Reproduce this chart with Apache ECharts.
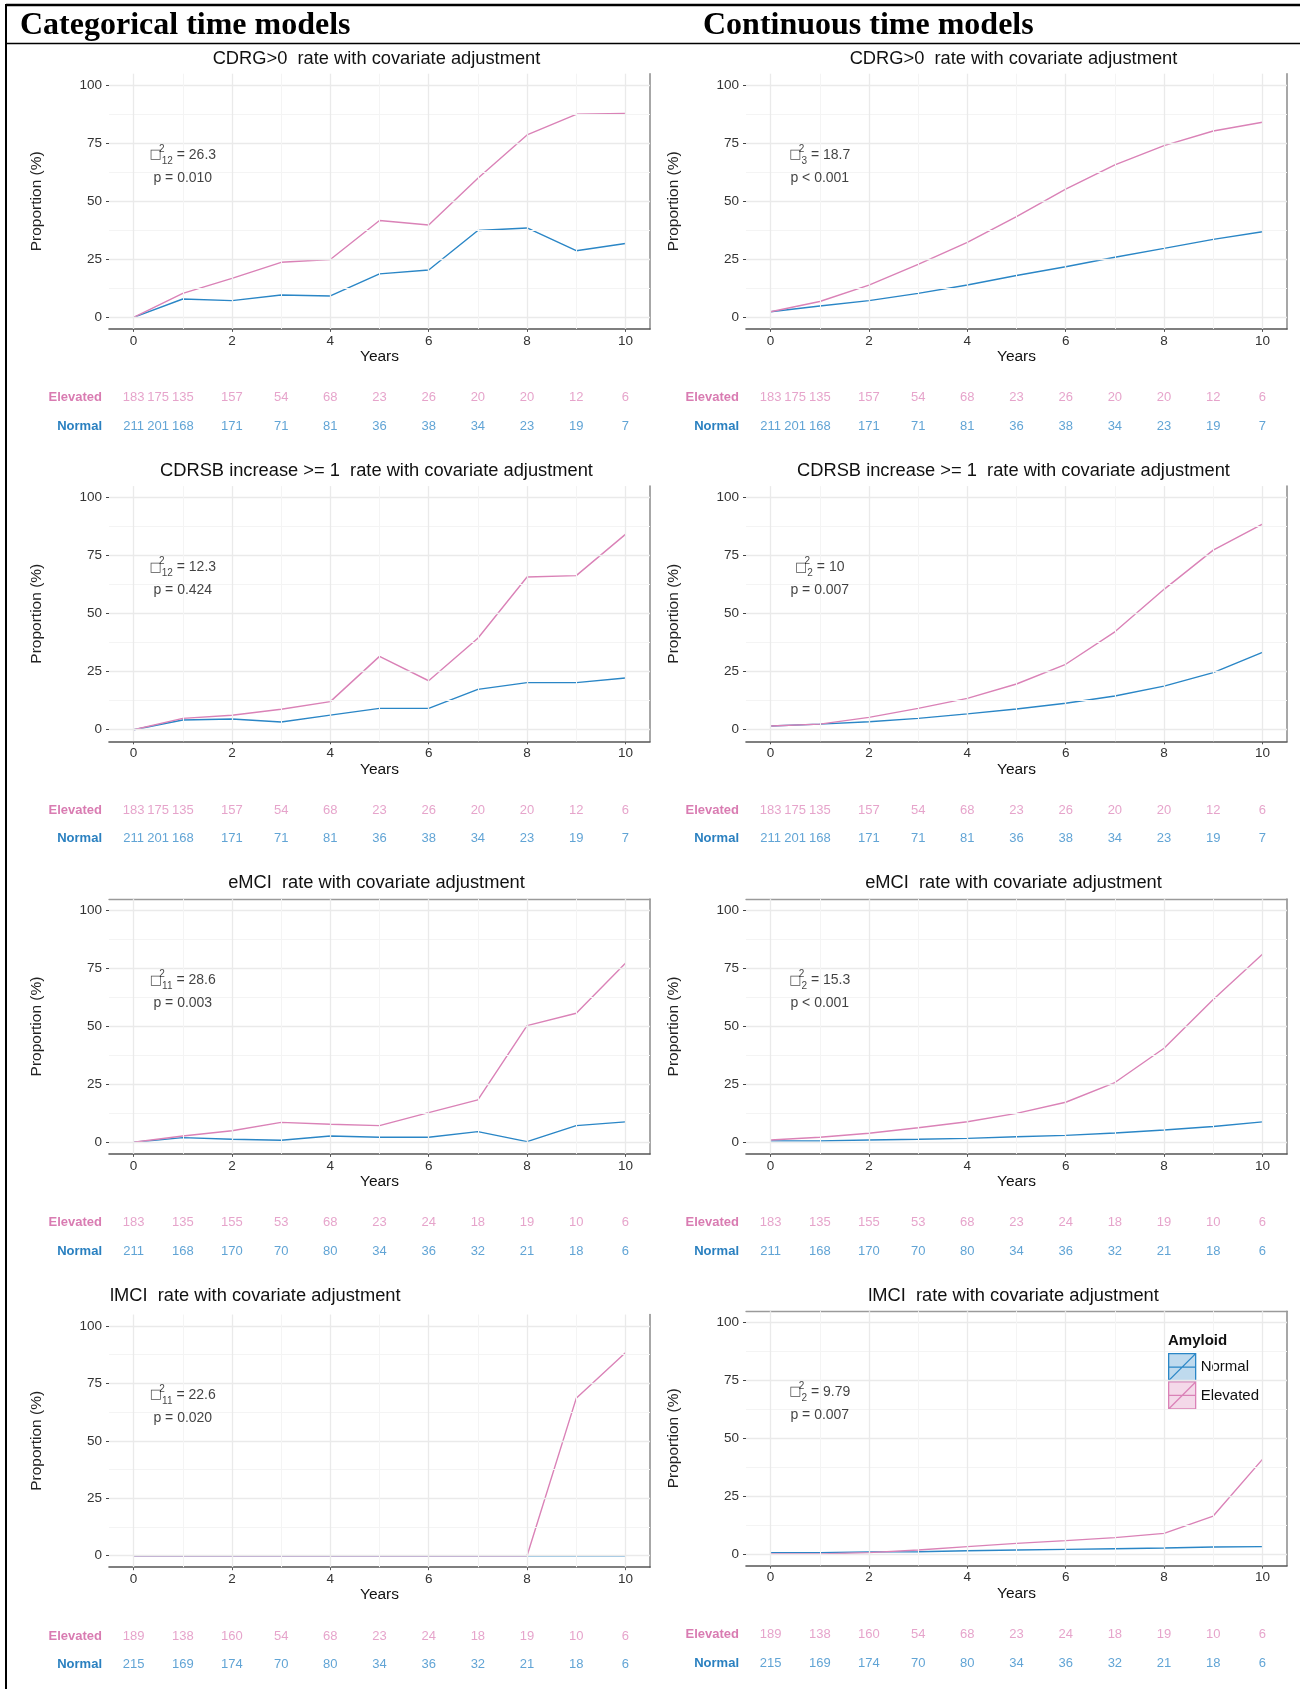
<!DOCTYPE html>
<html lang="en">
<head>
<meta charset="utf-8">
<title>Amyloid status and progression rates</title>
<script src="https://cdn.jsdelivr.net/npm/echarts@6/dist/echarts.min.js"></script>
<style>
  html, body { margin: 0; padding: 0; background: #fff; }
  #chart { width: 1300px; height: 1689px; }
</style>
</head>
<body>
<div id="chart"></div>
<script>
// follow-up years of the fitted curves
const years = [0, 1, 2, 3, 4, 5, 6, 7, 8, 9, 10];

// categorical time models (left column), proportion in %
const cdrgCatNormal = [0, 7.9, 7.2, 9.6, 9.2, 18.7, 20.4, 37.4, 38.5, 28.7, 31.8];
const cdrgCatElevated = [0, 10.3, 16.8, 23.7, 24.9, 41.7, 39.8, 59.9, 78.6, 87.5, 87.9];
const cdrsbCatNormal = [0, 4.2, 4.6, 3.3, 6.3, 9.2, 9.2, 17.4, 20.3, 20.3, 22.3];
const cdrsbCatElevated = [0, 4.9, 6.2, 8.8, 12.1, 31.6, 21.1, 39.4, 65.8, 66.4, 84.2];
const emciCatNormal = [0, 2.0, 1.3, 0.9, 2.7, 2.2, 2.2, 4.6, 0.3, 7.2, 8.8];
const emciCatElevated = [0, 2.7, 5.0, 8.6, 7.8, 7.2, 12.8, 18.3, 50.4, 55.7, 77.3];
const lmciCatNormal = [0, 0, 0, 0, 0, 0, 0, 0, 0, 0, 0];
const lmciCatElevated = [0, 0, 0, 0, 0, 0, 0, 0, 0, 68.5, 88.4];

// continuous time models (right column)
const cdrgConNormal = [2.4, 4.9, 7.2, 10.3, 13.9, 18.0, 21.8, 25.9, 29.7, 33.6, 36.9];
const cdrgConElevated = [2.4, 6.8, 13.9, 22.8, 32.3, 43.4, 55.2, 65.7, 74.0, 80.3, 84.1];
const cdrsbConNormal = [1.6, 2.4, 3.4, 4.9, 6.8, 8.9, 11.4, 14.5, 18.8, 24.6, 33.3];
const cdrsbConElevated = [1.6, 2.4, 5.3, 9.2, 13.5, 19.7, 28.2, 42.2, 60.5, 77.4, 88.6];
const emciConNormal = [0.6, 0.6, 1.0, 1.3, 1.7, 2.4, 3.0, 4.0, 5.3, 6.8, 8.8];
const emciConElevated = [1.0, 2.2, 3.9, 6.3, 8.9, 12.5, 17.3, 25.8, 40.6, 61.7, 81.2];
const lmciConNormal = [0.6, 0.6, 0.9, 1.0, 1.4, 1.7, 2.0, 2.3, 2.6, 3.0, 3.2];
const lmciConElevated = [0, 0, 0.6, 1.7, 3.2, 4.6, 5.8, 7.1, 8.9, 16.4, 40.9];

// numbers at risk under each panel
const riskTimesHalf = [0, 0.5, 1, 2, 3, 4, 5, 6, 7, 8, 9, 10];
const riskTimesYear = [0, 1, 2, 3, 4, 5, 6, 7, 8, 9, 10];
const cdrRiskElevated = [183, 175, 135, 157, 54, 68, 23, 26, 20, 20, 12, 6];
const cdrRiskNormal = [211, 201, 168, 171, 71, 81, 36, 38, 34, 23, 19, 7];
const emciRiskElevated = [183, 135, 155, 53, 68, 23, 24, 18, 19, 10, 6];
const emciRiskNormal = [211, 168, 170, 70, 80, 34, 36, 32, 21, 18, 6];
const lmciRiskElevated = [189, 138, 160, 54, 68, 23, 24, 18, 19, 10, 6];
const lmciRiskNormal = [215, 169, 174, 70, 80, 34, 36, 32, 21, 18, 6];

// text
const outcomeTitles = [
  'CDRG>0  rate with covariate adjustment',
  'CDRSB increase >= 1  rate with covariate adjustment',
  'eMCI  rate with covariate adjustment',
  'lMCI  rate with covariate adjustment'
];
const chiDfCat = ['12', '12', '11', '11'];
const chiCat = ['26.3', '12.3', '28.6', '22.6'];
const pCat = ['p = 0.010', 'p = 0.424', 'p = 0.003', 'p = 0.020'];
const chiDfCon = ['3', '2', '2', '2'];
const chiCon = ['18.7', '10', '15.3', '9.79'];
const pCon = ['p < 0.001', 'p = 0.007', 'p < 0.001', 'p = 0.007'];
const yTicks = [0, 25, 50, 75, 100];
const xTicks = [0, 2, 4, 6, 8, 10];

const panels = [
  [cdrgCatNormal, cdrgCatElevated, cdrgConNormal, cdrgConElevated, riskTimesHalf, cdrRiskNormal, cdrRiskElevated],
  [cdrsbCatNormal, cdrsbCatElevated, cdrsbConNormal, cdrsbConElevated, riskTimesHalf, cdrRiskNormal, cdrRiskElevated],
  [emciCatNormal, emciCatElevated, emciConNormal, emciConElevated, riskTimesYear, emciRiskNormal, emciRiskElevated],
  [lmciCatNormal, lmciCatElevated, lmciConNormal, lmciConElevated, riskTimesYear, lmciRiskNormal, lmciRiskElevated]
];

// colours / fonts
const BLUE = '#2A86C6', PINK = '#DA82B7';
const BLUE_TXT = '#3A8DCB', PINK_TXT = '#E08DBE';
const SANS = '"Liberation Sans", Arial, sans-serif';
const SERIF = '"Liberation Serif", "Times New Roman", serif';

// layout of the 4 x 2 panels
const colLeft = [109, 746];
const plotW = 541;
const rowY100 = [[85.3, 85.3], [497.7, 497.7], [910.7, 910.7], [1326, 1322.7]];
const rowY0 = [[317.3, 317.3], [729.7, 729.7], [1142.3, 1142.3], [1555.7, 1554]];
const subtitleY = [59.3, 470.7, 883.3, 1295.7];
const topBorder = [[false, false], [false, false], [true, true], [false, true]];

const grids = [], xAxes = [], yAxes = [], series = [];
const titles = [
  { text: 'Categorical time models', left: 20, top: 10, padding: 0,
    textStyle: { fontFamily: SERIF, fontWeight: 'bold', fontSize: 32, color: '#000' } },
  { text: 'Continuous time models', left: 703, top: 10, padding: 0,
    textStyle: { fontFamily: SERIF, fontWeight: 'bold', fontSize: 32, color: '#000' } },
  { text: 'Amyloid', left: 1168, top: 1333, padding: 0,
    textStyle: { fontFamily: SANS, fontWeight: 'bold', fontSize: 15, color: '#111' } }
];

function gridLines() {
  const major = { color: '#EAEAEA', width: 1.3, type: 'solid' };
  const minor = { color: '#F4F4F4', width: 1, type: 'solid' };
  const d = [];
  yTicks.forEach(v => d.push({ yAxis: v, lineStyle: major }));
  [12.5, 37.5, 62.5, 87.5].forEach(v => d.push({ yAxis: v, lineStyle: minor }));
  xTicks.forEach(v => d.push({ xAxis: v, lineStyle: major }));
  [1, 3, 5, 7, 9].forEach(v => d.push({ xAxis: v, lineStyle: minor }));
  return d;
}

for (let r = 0; r < 4; r++) {
  const [catN, catE, conN, conE, riskT, riskN, riskE] = panels[r];
  for (let c = 0; c < 2; c++) {
    const normal = c === 0 ? catN : conN;
    const elevated = c === 0 ? catE : conE;
    const df = c === 0 ? chiDfCat[r] : chiDfCon[r];
    const chi = c === 0 ? chiCat[r] : chiCon[r];
    const pTxt = c === 0 ? pCat[r] : pCon[r];

    const y100 = rowY100[r][c], y0 = rowY0[r][c];
    const unit = (y0 - y100) / 100;
    const top = y100 - 5 * unit, height = 110 * unit, bottom = top + height;
    const left = colLeft[c];

    const gMain = grids.length;
    grids.push({ left: left, top: top, width: plotW, height: height, outerBoundsMode: 'none' });
    const gRisk = grids.length;
    grids.push({ left: left, top: bottom + 69 - 14.25, width: plotW, height: 57, outerBoundsMode: 'none' });

    const xi = xAxes.length, yi = yAxes.length;
    xAxes.push({
      type: 'value', gridIndex: gMain, position: 'bottom', min: -0.5, max: 10.5,
      axisLine: { show: true, onZero: false, lineStyle: { color: '#555', width: 1.6 } },
      axisTick: { show: true, customValues: xTicks, length: 3, lineStyle: { color: '#555' } },
      axisLabel: { customValues: xTicks, margin: 5, fontSize: 13.5, color: '#333', fontFamily: SANS },
      splitLine: { show: false },
      name: 'Years', nameLocation: 'middle', nameGap: 20,
      nameTextStyle: { fontSize: 15.5, color: '#111', fontFamily: SANS }
    });
    xAxes.push({
      type: 'value', gridIndex: gMain, position: 'top', min: -0.5, max: 10.5,
      axisLine: { show: topBorder[r][c], onZero: false, lineStyle: { color: '#9A9A9A', width: 1.3 } },
      axisTick: { show: false }, axisLabel: { show: false }, splitLine: { show: false }
    });
    xAxes.push({ type: 'value', gridIndex: gRisk, min: -0.5, max: 10.5, show: false });

    yAxes.push({
      type: 'value', gridIndex: gMain, position: 'left', min: -5, max: 105,
      axisLine: { show: false, onZero: false },
      axisTick: { show: true, customValues: yTicks, length: 3, lineStyle: { color: '#444' } },
      axisLabel: { customValues: yTicks, margin: 7, fontSize: 13.5, color: '#333', fontFamily: SANS },
      splitLine: { show: false },
      name: 'Proportion (%)', nameLocation: 'middle', nameGap: 64, nameRotate: 90,
      nameTextStyle: { fontSize: 15.5, color: '#222', fontFamily: SANS }
    });
    yAxes.push({
      type: 'value', gridIndex: gMain, position: 'right', min: -5, max: 105,
      axisLine: { show: true, onZero: false, lineStyle: { color: '#8A8A8A', width: 1.5 } },
      axisTick: { show: false }, axisLabel: { show: false }, splitLine: { show: false }
    });
    yAxes.push({
      type: 'category', gridIndex: gRisk, inverse: true, data: ['Elevated', 'Normal'],
      axisLine: { show: false }, axisTick: { show: false }, splitLine: { show: false },
      axisLabel: {
        margin: 7, fontSize: 13, fontWeight: 'bold', fontFamily: SANS,
        color: v => (v === 'Elevated' ? '#D97CB2' : '#2A80C0')
      }
    });

    // panel background grid
    series.push({
      type: 'line', name: 'grid', xAxisIndex: xi, yAxisIndex: yi, data: [], z: 0, silent: true,
      markLine: { silent: true, symbol: ['none', 'none'], label: { show: false }, animation: false, data: gridLines() }
    });
    series.push({
      type: 'line', name: 'Normal', xAxisIndex: xi, yAxisIndex: yi, showSymbol: false, z: 3,
      lineStyle: { color: BLUE, width: 1.4 }, itemStyle: { color: BLUE },
      data: years.map((t, i) => [t, normal[i]])
    });
    series.push({
      type: 'line', name: 'Elevated', xAxisIndex: xi, yAxisIndex: yi, showSymbol: false, z: 4,
      lineStyle: { color: PINK, width: 1.4 }, itemStyle: { color: PINK },
      data: years.map((t, i) => [t, elevated[i]])
    });
    // chi-square annotation
    series.push({
      type: 'scatter', name: 'stat', xAxisIndex: xi, yAxisIndex: yi, symbolSize: 1, silent: true, z: 5,
      itemStyle: { color: 'rgba(0,0,0,0)' },
      label: {
        show: true, position: 'inside', color: '#111', fontFamily: SANS,
        rich: {
          b: { fontSize: 13, lineHeight: 22, color: '#222', fontFamily: '"DejaVu Sans", sans-serif' },
          sup: { fontSize: 10, lineHeight: 10, verticalAlign: 'top', width: 0, color: '#111', fontFamily: SANS },
          sub: { fontSize: 10, lineHeight: 10, verticalAlign: 'bottom', color: '#111', fontFamily: SANS },
          t: { fontSize: 14, lineHeight: 22, color: '#111', fontFamily: SANS }
        }
      },
      data: [
        { value: [1, 70], label: { formatter: '{b|□}{sup|2}{sub|' + df + '}{t| = ' + chi + '}' } },
        { value: [1, 60], label: { formatter: '{t|' + pTxt + '}' } }
      ]
    });
    // numbers at risk
    [['Elevated', riskE, PINK_TXT], ['Normal', riskN, BLUE_TXT]].forEach(([grp, counts, col]) => {
      series.push({
        type: 'scatter', name: 'risk ' + grp, xAxisIndex: xi + 2, yAxisIndex: yi + 2,
        symbolSize: 1, silent: true, itemStyle: { color: 'rgba(0,0,0,0)' },
        label: { show: true, position: 'inside', formatter: p => p.value[2], color: col, fontSize: 13, fontFamily: SANS },
        data: riskT.map((t, i) => [t, grp, counts[i]])
      });
    });

    titles.push({
      text: outcomeTitles[r],
      left: (r === 3 && c === 0) ? 110 : left + plotW / 2 - 3,
      textAlign: (r === 3 && c === 0) ? 'left' : 'center',
      top: subtitleY[r] - 9, padding: 0,
      textStyle: { fontSize: 18.3, fontWeight: 'normal', color: '#111', fontFamily: SANS }
    });
  }
}

const keyIcon = 'path://M0,0L27,0L27,27L0,27Z M0,13.5L27,13.5Z M0,27L27,0Z';

const chart = echarts.init(document.getElementById('chart'), null, { renderer: 'canvas' });
chart.setOption({
  animation: false,
  backgroundColor: '#fff',
  title: titles,
  grid: grids,
  xAxis: xAxes,
  yAxis: yAxes,
  legend: {
    orient: 'vertical', left: 1163, top: 1331, padding: [22, 8, 8, 5],
    backgroundColor: '#fff', itemGap: 0, itemWidth: 27, itemHeight: 27,
    icon: keyIcon, selectedMode: false,
    textStyle: { fontSize: 15, color: '#111', fontFamily: SANS },
    data: [
      { name: 'Normal', itemStyle: { color: 'rgba(42,134,198,0.3)', borderColor: BLUE, borderWidth: 1.3 } },
      { name: 'Elevated', itemStyle: { color: 'rgba(218,130,183,0.3)', borderColor: PINK, borderWidth: 1.3 } }
    ]
  },
  graphic: [
    { type: 'line', shape: { x1: 6, y1: 5, x2: 1300, y2: 5 }, style: { stroke: '#000', lineWidth: 2.5 } },
    { type: 'line', shape: { x1: 6, y1: 4, x2: 6, y2: 1689 }, style: { stroke: '#000', lineWidth: 2 } },
    { type: 'line', shape: { x1: 6, y1: 43.5, x2: 1300, y2: 43.5 }, style: { stroke: '#000', lineWidth: 1.5 } }
  ],
  series: series
});
</script>
</body>
</html>
